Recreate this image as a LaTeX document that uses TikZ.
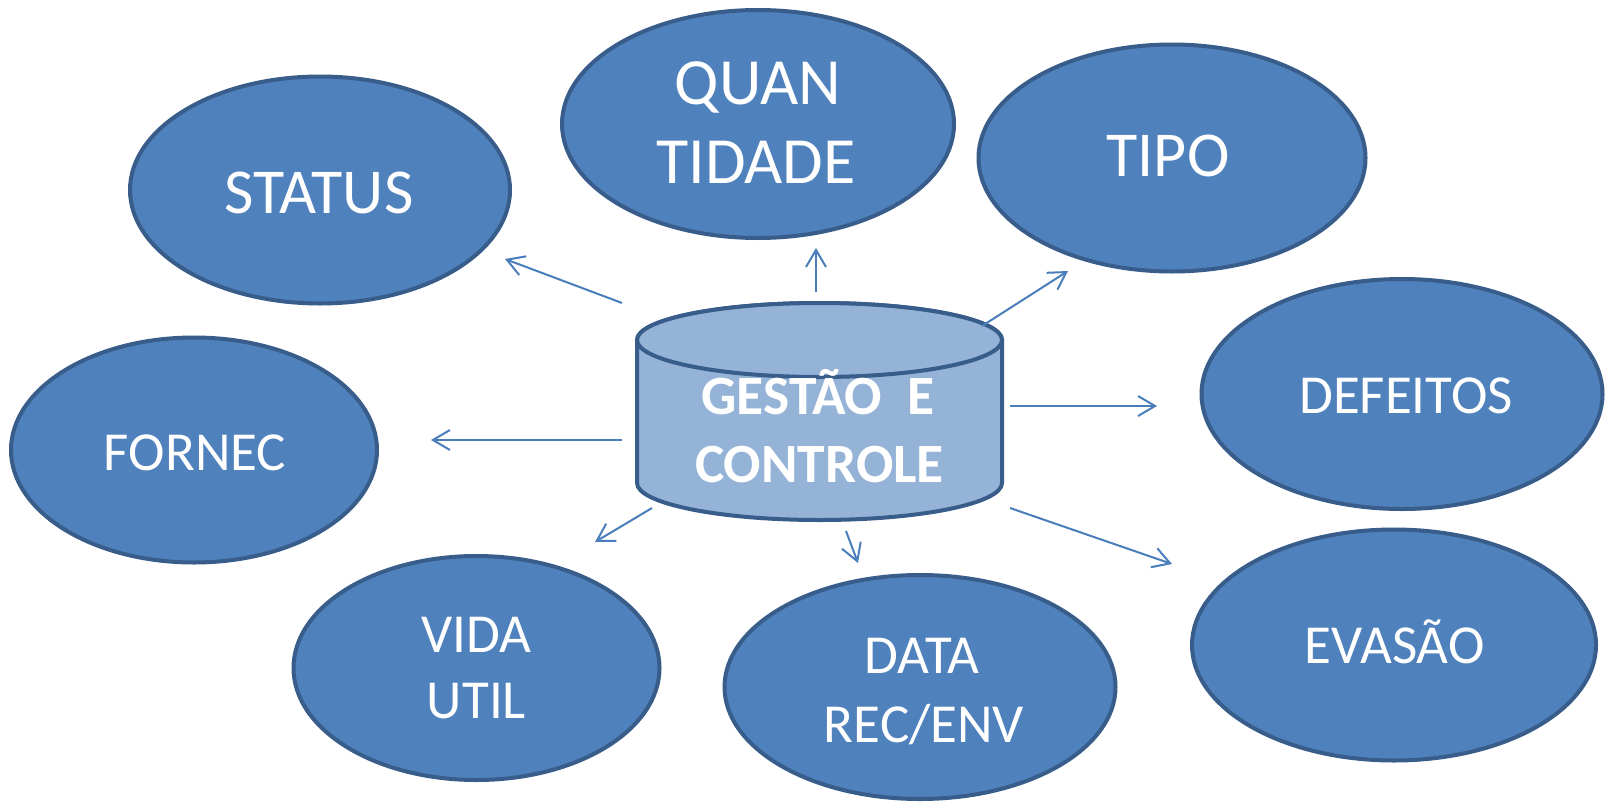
\documentclass[tikz,border=0pt]{standalone}
\usepackage{fontspec}
\setmainfont{Carlito}
\usetikzlibrary{arrows.meta,shapes.geometric}
\definecolor{efill}{HTML}{4F81BD}
\definecolor{edraw}{HTML}{385D8A}
\definecolor{cfill}{HTML}{95B3D7}
\definecolor{arrc}{HTML}{4A7EBB}
\begin{document}
\begin{tikzpicture}[x=0.5pt,y=-0.5pt,
  oval/.style={ellipse, draw=edraw, fill=efill, line width=2pt, inner sep=0pt},
  lbl/.style={anchor=base, text=white, font=\fontsize{32}{38}\selectfont, inner sep=0pt},
  lbls/.style={anchor=base, text=white, font=\fontsize{27.5}{33}\selectfont, inner sep=0pt},
  lblq/.style={anchor=base, text=white, font=\fontsize{33}{40}\selectfont, inner sep=0pt},
  clbl/.style={anchor=base, text=white, font=\fontsize{27.7}{33}\selectfont\bfseries, inner sep=0pt},
  arr/.style={draw=arrc, line width=1pt, -{Straight Barb[length=8.5pt,width=10pt]}},
  cyl/.style={fill=cfill, draw=edraw, line width=2pt}]
\fill[white] (0,0) rectangle (1605,803);
\useasboundingbox (0,0) rectangle (1605,803);

% ellipses
\node[oval, minimum width=190pt, minimum height=113.5pt] (status) at (320,190) {};
\node[oval, minimum width=196pt, minimum height=114pt] (quan) at (758,124) {};
\node[oval, minimum width=193.5pt, minimum height=113.5pt] (tipo) at (1172,158) {};
\node[oval, minimum width=200.5pt, minimum height=115pt] (def) at (1402,394) {};
\node[oval, minimum width=183pt, minimum height=112.5pt] (forn) at (194,450) {};
\node[oval, minimum width=183pt, minimum height=112pt] (vida) at (476.5,668) {};
\node[oval, minimum width=195.5pt, minimum height=112pt] (data) at (920,687) {};
\node[oval, minimum width=202pt, minimum height=115.5pt] (evas) at (1394,645) {};

% labels
\node[lbl] (tstatus) at (319,213) {STATUS};
\node[lblq] (tquan1) at (758,104) {QUAN};
\node[lblq] (tquan2) at (756,183) {TIDADE};
\node[lbl] (ttipo) at (1168,176) {TIPO};
\node[lbls] (tdef) at (1406,413) {DEFEITOS};
\node[lbls] (tforn) at (195,470) {FORNEC};
\node[lbls] (tvida1) at (476.5,652.7) {VIDA};
\node[lbls] (tvida2) at (476.5,718.3) {UTIL};
\node[lbls] (tdata1) at (922,673) {DATA};
\node[lbls] (tdata2) at (924,742.7) {REC/ENV};
\node[lbls] (tevas) at (1394.7,663) {EVASÃO};

% cylinder
\path[cyl] (637,340) -- (637,483)
  arc[start angle=180, end angle=360, x radius=91.25pt, y radius=18.5pt]
  -- (1002,340)
  arc[start angle=0, end angle=180, x radius=91.25pt, y radius=18.5pt] -- cycle;
\draw[cyl] (819.5,340) ellipse[x radius=91.25pt, y radius=18.5pt];
\node[clbl] (g1) at (818,414) {GESTÃO\ \ E};
\node[clbl] (g2) at (819.5,482) {CONTROLE};

% arrow endpoints
\coordinate (a1) at (622,303); \coordinate (b1) at (505,259);
\coordinate (a2) at (816,292); \coordinate (b2) at (816,248);
\coordinate (a3) at (982,326); \coordinate (b3) at (1068,271);
\coordinate (a4) at (1010,406); \coordinate (b4) at (1157,406);
\coordinate (a5) at (1010,508); \coordinate (b5) at (1172,564);
\coordinate (a6) at (846,531); \coordinate (b6) at (858,563);
\coordinate (a7) at (652,508); \coordinate (b7) at (595,542);
\coordinate (a8) at (622,440); \coordinate (b8) at (431,440);
\foreach \i in {1,...,8} {\draw[arr] (a\i) -- (b\i);}
\end{tikzpicture}
\end{document}
